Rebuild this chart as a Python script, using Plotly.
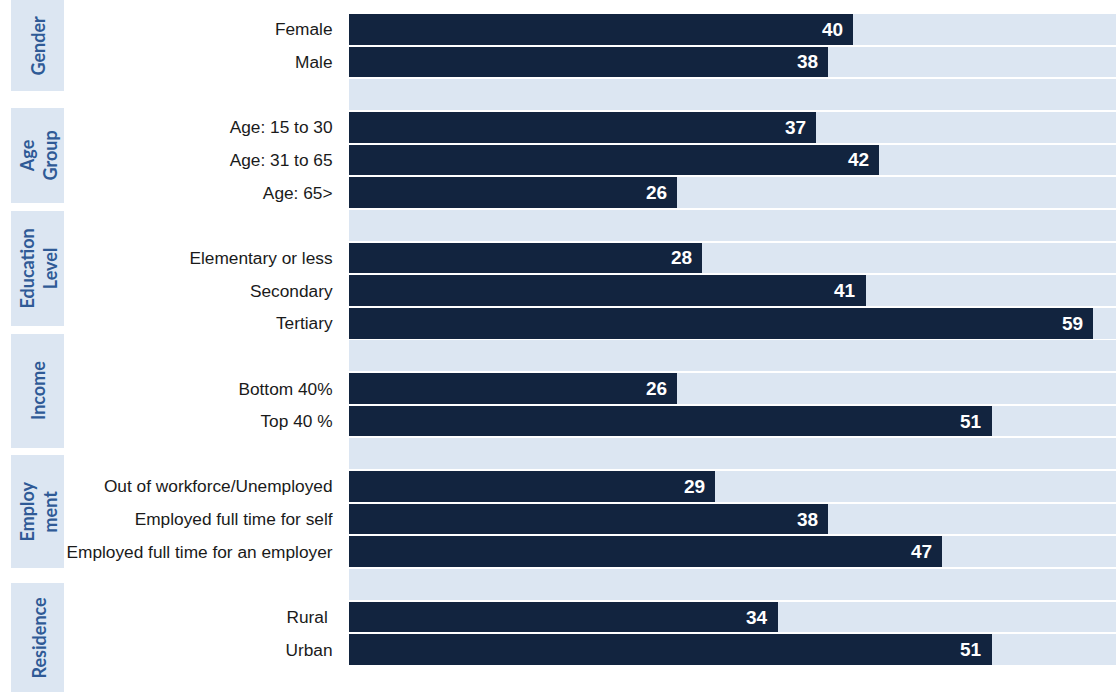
import plotly.graph_objects as go

# ---- data ----
row_labels = ["Female", "Male", "",
              "Age: 15 to 30", "Age: 31 to 65", "Age: 65>", "",
              "Elementary or less", "Secondary", "Tertiary", "",
              "Bottom 40%", "Top 40 %", "",
              "Out of workforce/Unemployed", "Employed full time for self",
              "Employed full time for an employer", "",
              "Rural ", "Urban"]
row_values = [40, 38, None,
              37, 42, 26, None,
              28, 41, 59, None,
              26, 51, None,
              29, 38, 47, None,
              34, 51]
group_labels = ["Gender", "Age<br>Group", "Education<br>Level", "Income",
                "Employ<br>ment", "Residence"]
# group box extents in pixel rows (top, bottom)
group_boxes_px = [(-5, 91), (108, 203), (211, 326), (334, 448), (455, 568), (583, 700)]
background_value = 65

W, H = 1116, 692
ML, MR, MT, MB = 349, 0, 13, 26
PW, PH = W - ML - MR, H - MT - MB
XMAX = 60.82

NAVY = "#12243F"
LIGHT = "#DCE6F2"
BOX = "#DCE6F2"
GROUP_TXT = "#2F5A96"

ypos = list(range(len(row_labels)))
bar_y = [i for i, v in zip(ypos, row_values) if v is not None]
bar_x = [v for v in row_values if v is not None]

fig = go.Figure()
fig.add_trace(go.Bar(
    x=[background_value] * len(ypos), y=ypos, orientation="h",
    marker=dict(color=LIGHT, line=dict(width=0)), width=0.94,
    hoverinfo="skip", showlegend=False))
fig.add_trace(go.Bar(
    x=bar_x, y=bar_y, orientation="h",
    marker=dict(color=NAVY, line=dict(width=0)), width=0.94,
    showlegend=False))

for yv, xv in zip(bar_y, bar_x):
    fig.add_annotation(x=xv, y=yv, xref="x", yref="y", text=f"<b>{xv}</b>",
                       showarrow=False, xanchor="right", yanchor="middle",
                       xshift=-8, font=dict(family="Liberation Sans, Arial", size=19, color="white"))

def px_to_paper_x(px):
    return (px - ML) / PW

def px_to_paper_y(py):
    return (H - MB - py) / PH

for (top, bot), lab in zip(group_boxes_px, group_labels):
    fig.add_shape(type="rect", xref="paper", yref="paper",
                  x0=px_to_paper_x(11), x1=px_to_paper_x(64),
                  y0=px_to_paper_y(bot), y1=px_to_paper_y(top),
                  fillcolor=BOX, line=dict(width=0), layer="below")
    cy = (max(top, 0) + min(bot, H)) / 2
    fig.add_annotation(xref="paper", yref="paper", x=px_to_paper_x(38),
                       y=px_to_paper_y(cy), text=f"<b>{lab}</b>", textangle=-90,
                       showarrow=False, xanchor="center", yanchor="middle",
                       font=dict(family="Lato, Open Sans", size=18, color=GROUP_TXT))

fig.update_layout(
    width=W, height=H, margin=dict(l=ML, r=MR, t=MT, b=MB),
    barmode="overlay", bargap=0,
    plot_bgcolor="white", paper_bgcolor="white",
    xaxis=dict(range=[0, XMAX], visible=False, showgrid=False, zeroline=False),
    yaxis=dict(range=[len(row_labels) - 0.5, -0.5], tickmode="array",
               tickvals=ypos, ticktext=row_labels, showgrid=False, zeroline=False,
               ticks="outside", ticklen=12, tickcolor="rgba(0,0,0,0)",
               tickfont=dict(family="Liberation Sans, Arial", size=17.3, color="#1a1a1a")),
)

fig.write_html("out.html")
